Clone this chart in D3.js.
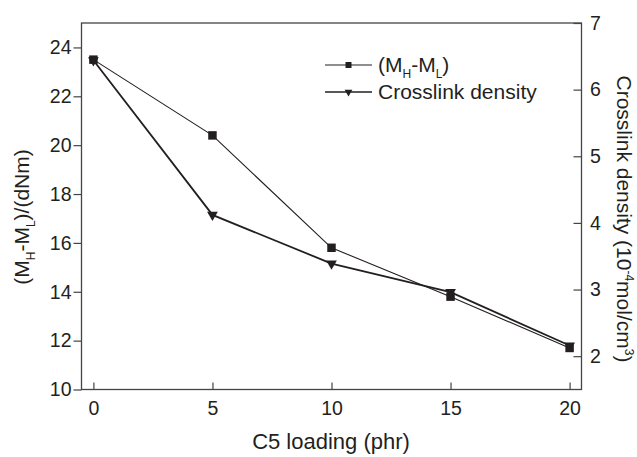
<!DOCTYPE html>
<html><head><meta charset="utf-8">
<script src="https://cdn.jsdelivr.net/npm/d3@7"></script>
<style>body{margin:0;background:#fff}svg text{font-family:"Liberation Sans",Arial,sans-serif;fill:#231f20}</style>
</head><body>
<svg id="c" width="637" height="457"></svg>
<script>
const loading = [0, 5, 10, 15, 20];
const mhml = [23.5, 20.4, 15.8, 13.8, 11.7];
const crosslink = [6.44, 4.12, 3.39, 2.96, 2.16];
const xTicks = [0, 5, 10, 15, 20];
const yLeftTicks = [10, 12, 14, 16, 18, 20, 22, 24];
const yRightTicks = [2, 3, 4, 5, 6, 7];

const svg = d3.select("#c");
const L = 81.5, R = 581.5, T = 23, B = 389.5;
const x = d3.scaleLinear().domain([-0.5, 20.5]).range([L, R]);
const yL = d3.scaleLinear().domain([10, 25]).range([B, T]);
const yR = d3.scaleLinear().domain([1.5, 7]).range([B, T]);
const col = "#231f20";
const tickFont = 19.5;

// frame
svg.append("rect").attr("x", L).attr("y", T).attr("width", R - L).attr("height", B - T)
  .attr("fill", "none").attr("stroke", "#444").attr("stroke-width", 1.3);

// x axis
const gx = svg.append("g").attr("transform", `translate(0,${B})`)
  .call(d3.axisBottom(x).tickValues(xTicks).tickSize(-7).tickPadding(12).tickFormat(d3.format("d")));
gx.select(".domain").remove();
gx.selectAll("line").attr("stroke", "#444").attr("stroke-width", 1.2);
gx.selectAll("text").attr("font-size", tickFont).attr("dy", "0.71em");

// left axis
const gl = svg.append("g").attr("transform", `translate(${L},0)`)
  .call(d3.axisLeft(yL).tickValues(yLeftTicks).tickSize(8).tickPadding(2).tickFormat(d3.format("d")));
gl.select(".domain").remove();
gl.selectAll("line").attr("stroke", "#444").attr("stroke-width", 1.2);
gl.selectAll("text").attr("font-size", tickFont);

// right axis (ticks inward)
const gr = svg.append("g").attr("transform", `translate(${R},0)`)
  .call(d3.axisRight(yR).tickValues(yRightTicks).tickSize(-8).tickPadding(8.5).tickFormat(d3.format("d")));
gr.select(".domain").remove();
gr.selectAll("line").attr("stroke", "#444").attr("stroke-width", 1.2);
gr.selectAll("text").attr("font-size", tickFont);

// lines
const d1 = loading.map((v, i) => [v, mhml[i]]);
const d2 = loading.map((v, i) => [v, crosslink[i]]);
svg.append("path").datum(d1).attr("fill", "none").attr("stroke", col).attr("stroke-width", 1.1)
  .attr("d", d3.line().x(d => x(d[0])).y(d => yL(d[1])));
svg.append("path").datum(d2).attr("fill", "none").attr("stroke", col).attr("stroke-width", 1.8)
  .attr("d", d3.line().x(d => x(d[0])).y(d => yR(d[1])));

const sq = d3.symbol().type(d3.symbolSquare).size(72);
const tri = d3.symbol().type(d3.symbolTriangle).size(50);
svg.selectAll(".sq").data(d1).join("path").attr("class", "sq")
  .attr("d", sq).attr("fill", col)
  .attr("transform", d => `translate(${x(d[0])},${yL(d[1])})`);
svg.selectAll(".tri").data(d2).join("path").attr("class", "tri")
  .attr("d", tri).attr("fill", col)
  .attr("transform", d => `translate(${x(d[0])},${yR(d[1])}) rotate(180)`);

// legend
const lg = svg.append("g");
const rows = [{y: 65, sym: "sq"}, {y: 92, sym: "tri"}];
rows.forEach(r => {
  lg.append("line").attr("x1", 325).attr("x2", 372).attr("y1", r.y).attr("y2", r.y)
    .attr("stroke", col).attr("stroke-width", r.sym === "sq" ? 1.1 : 1.6);
  lg.append("path").attr("d", r.sym === "sq" ? d3.symbol().type(d3.symbolSquare).size(36)()
      : d3.symbol().type(d3.symbolTriangle).size(26)())
    .attr("fill", col)
    .attr("transform", `translate(348.5,${r.y}) rotate(${r.sym === "sq" ? 0 : 180})`);
});
const legFont = 21;
const t1 = lg.append("text").attr("x", 378).attr("y", 72).attr("font-size", legFont);
t1.append("tspan").text("(M");
t1.append("tspan").attr("font-size", 12).attr("dy", 6).text("H");
t1.append("tspan").attr("dy", -6).text("-M");
t1.append("tspan").attr("font-size", 12).attr("dy", 6).text("L");
t1.append("tspan").attr("dy", -6).text(")");
lg.append("text").attr("x", 378).attr("y", 99).attr("font-size", legFont).text("Crosslink density");

// x title
svg.append("text").attr("x", 331).attr("y", 449).attr("text-anchor", "middle")
  .attr("font-size", 22).text("C5 loading (phr)");

// left title
const tl = svg.append("text").attr("transform", `translate(29,217) rotate(-90)`)
  .attr("text-anchor", "middle").attr("font-size", 21);
tl.append("tspan").text("(M");
tl.append("tspan").attr("font-size", 12).attr("dy", 6).text("H");
tl.append("tspan").attr("dy", -6).text("-M");
tl.append("tspan").attr("font-size", 12).attr("dy", 6).text("L");
tl.append("tspan").attr("dy", -6).text(")/(dNm)");

// right title
const tr = svg.append("text").attr("transform", `translate(617,219) rotate(90)`)
  .attr("text-anchor", "middle").attr("font-size", 21);
tr.append("tspan").text("Crosslink density (10");
tr.append("tspan").attr("font-size", 12).attr("dy", -8).text("-4");
tr.append("tspan").attr("dy", 8).text("mol/cm");
tr.append("tspan").attr("font-size", 12).attr("dy", -8).text("3");
tr.append("tspan").attr("dy", 8).text(")");
</script>
</body></html>
